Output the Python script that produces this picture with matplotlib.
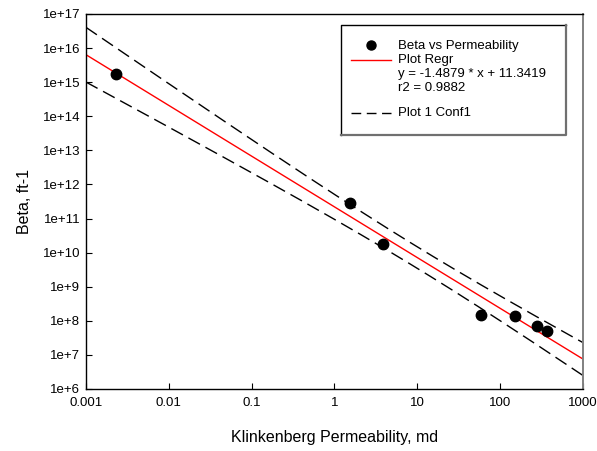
import numpy as np
import matplotlib
matplotlib.use('Agg')
import matplotlib.pyplot as plt
from matplotlib.lines import Line2D
from matplotlib.ticker import FixedLocator, FuncFormatter, NullLocator

plt.rcParams['font.family'] = ['Liberation Sans', 'DejaVu Sans']

# data
perm = [0.0023, 1.54, 3.88, 58.7, 151, 281, 365]
beta = [1.76e15, 2.9e11, 1.83e10, 1.53e8, 1.43e8, 6.96e7, 4.87e7]
slope, icpt = -1.4879, 11.3419
r2 = 0.9882
t_crit = 2.5706  # 95 %, n-2 = 5

xticks = [0.001, 0.01, 0.1, 1, 10, 100, 1000]
xticklabels = ['0.001', '0.01', '0.1', '1', '10', '100', '1000']
yticks = [10.0 ** k for k in range(6, 18)]

# regression line and confidence band in log space
lx = np.log10(perm)
ly = np.log10(beta)
n = len(lx)
res = ly - (slope * lx + icpt)
s = np.sqrt(np.sum(res ** 2) / (n - 2))
sxx = np.sum((lx - lx.mean()) ** 2)
xx = np.linspace(-3, 3, 200)
yy = slope * xx + icpt
hw = t_crit * s * np.sqrt(1 / n + (xx - lx.mean()) ** 2 / sxx)

fig = plt.figure(figsize=(5.97, 4.51), dpi=100)
ax = fig.add_axes([0.144, 0.1375, 0.8325, 0.8315])
ax.set_xscale('log')
ax.set_yscale('log')

dash = (0, (9.5, 4.5))
ax.plot(10 ** xx, 10 ** (yy + hw), color='black', lw=1.0, ls=dash)
ax.plot(10 ** xx, 10 ** (yy - hw), color='black', lw=1.0, ls=dash)
ax.plot(10 ** xx, 10 ** yy, color='#ff0000', lw=1.0)
ax.plot(perm, beta, 'o', color='black', ms=7.5, clip_on=False, zorder=5)

ax.set_xlim(0.001, 1000)
ax.set_ylim(1e6, 1e17)
ax.xaxis.set_major_locator(FixedLocator(xticks))
ax.xaxis.set_minor_locator(NullLocator())
ax.xaxis.set_major_formatter(FuncFormatter(lambda v, p: xticklabels[xticks.index(v)] if v in xticks else ''))
ax.yaxis.set_major_locator(FixedLocator(yticks))
ax.yaxis.set_minor_locator(NullLocator())
ax.yaxis.set_major_formatter(FuncFormatter(lambda v, p: '1e+%d' % round(np.log10(v))))
ax.tick_params(direction='in', length=4, width=0.8, labelsize=9.5, pad=4)
ax.tick_params(axis='x', pad=6)

for side in ['left', 'bottom', 'top']:
    ax.spines[side].set_linewidth(1.0)
ax.spines['right'].set_color('#808080')
ax.spines['right'].set_linewidth(1.4)

ax.set_xlabel('Klinkenberg Permeability, md', fontsize=11.5, labelpad=15)
ax.set_ylabel('Beta, ft-1', fontsize=11.5, labelpad=8)

# hand-built legend box (axes fraction)
lb = dict(transform=ax.transAxes, clip_on=False)
x0, x1, y0, y1 = 0.5141, 0.9658, 0.677, 0.9707
ax.add_line(Line2D([x0, x0, x1], [y0, y1, y1], color='black', lw=1.0, **lb))
ax.add_line(Line2D([x0, x1, x1], [y0, y0, y1], color='#707070', lw=1.6, **lb))
tx = 0.6278
ax.plot([0.573], [0.917], 'o', color='black', ms=6.5, **lb)
ax.add_line(Line2D([0.533, 0.613], [0.877, 0.877], color='#ff0000', lw=1.0, **lb))
ax.add_line(Line2D([0.533, 0.613], [0.736, 0.736], color='black', lw=1.0,
                   ls=(0, (7, 4)), **lb))
rows = [('Beta vs Permeability', 0.915), ('Plot Regr', 0.877),
        ('y = %.4f * x + %.4f' % (slope, icpt), 0.840),
        ('r2 = %.4f' % r2, 0.803), ('Plot 1 Conf1', 0.736)]
for txt, yv in rows:
    ax.text(tx, yv, txt, fontsize=9.5, va='center', ha='left', transform=ax.transAxes)

fig.savefig('out.png', dpi=100)
